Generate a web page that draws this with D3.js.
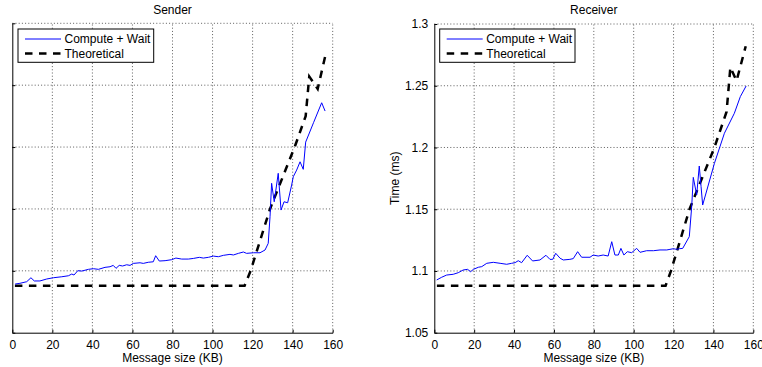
<!DOCTYPE html>
<html>
<head>
<meta charset="utf-8">
<script src="https://cdn.jsdelivr.net/npm/d3@7"></script>
<style>
  html, body { margin: 0; padding: 0; background: #fff; }
  svg { display: block; font-family: "Liberation Sans", Arial, sans-serif; }
</style>
</head>
<body>
<svg id="chart" width="762" height="367"></svg>
<script>
// ---------- data ----------
const xTicks = [0, 20, 40, 60, 80, 100, 120, 140, 160];
const yTicks = [1.05, 1.1, 1.15, 1.2, 1.25, 1.3];
const seriesNames = ["Compute + Wait", "Theoretical"];
const panelTitles = ["Sender", "Receiver"];

const senderX = [1.4, 3.8, 7.2, 9.3, 11, 13.8, 17.2, 20.5, 24.7, 28, 29.7, 30.8, 32.7, 34.7, 38, 40.5, 43, 46.3, 48.8, 50.4, 51.8, 53.4, 55.1, 57.1, 58.8, 60.4, 63.8, 65.4, 67.9, 70.4, 71.6, 73.4, 76.3, 79.6, 81.7, 84.6, 87.9, 90.4, 93.4, 95.4, 97.9, 100.4, 102.9, 105.4, 108.7, 110.4, 112.9, 115.4, 117, 120.4, 123.7, 126.2, 127.8, 128.7, 129.5, 130.8, 132.8, 134.2, 135.7, 137.5, 139.5, 140.3, 142, 143.7, 145.3, 146.5, 150.5, 154.5, 156.2];
const senderY = [1.0893, 1.0899, 1.0912, 1.0944, 1.0918, 1.0918, 1.0934, 1.0944, 1.0952, 1.096, 1.0974, 1.0966, 1.1001, 1.0998, 1.1012, 1.1017, 1.1012, 1.1028, 1.1033, 1.1044, 1.102, 1.1044, 1.1039, 1.1049, 1.1044, 1.106, 1.1065, 1.106, 1.1069, 1.1073, 1.1122, 1.1079, 1.1082, 1.109, 1.1103, 1.1095, 1.1095, 1.11, 1.1109, 1.1103, 1.1109, 1.1119, 1.1114, 1.1125, 1.1133, 1.1128, 1.1141, 1.1152, 1.1141, 1.1146, 1.1146, 1.1168, 1.1222, 1.1437, 1.1707, 1.1558, 1.1788, 1.1491, 1.1558, 1.155, 1.1693, 1.176, 1.1814, 1.1881, 1.182, 1.204, 1.220, 1.2358, 1.2291];

const receiverX = [1.2, 3.7, 6.2, 9.5, 12, 14.5, 16.7, 18.2, 19.6, 22.1, 23.8, 26.3, 29.6, 33, 36.3, 38.8, 40.5, 42.1, 43.8, 46.6, 49.3, 53, 56, 58, 59.4, 60.9, 63.1, 64.7, 68, 69.7, 71.9, 73.9, 78.1, 79.7, 82.2, 84.7, 87.2, 89, 90.6, 92.3, 93.6, 95.1, 96.8, 99, 101.5, 103.2, 106.5, 109.9, 113.2, 116.6, 118.2, 119.9, 121.6, 122.9, 124.6, 127.9, 129.1, 129.9, 131.6, 132.9, 133.8, 134.6, 140.5, 145.5, 150.5, 153.5, 156.4];
const receiverY = [1.0927, 1.0949, 1.0967, 1.0973, 1.0986, 1.1008, 1.1013, 1.0994, 1.1013, 1.103, 1.1035, 1.1062, 1.107, 1.1062, 1.1054, 1.1062, 1.1067, 1.1083, 1.1067, 1.1127, 1.1081, 1.1089, 1.1127, 1.1094, 1.1094, 1.1143, 1.1103, 1.1089, 1.1094, 1.11, 1.1156, 1.1111, 1.1111, 1.1129, 1.1121, 1.1129, 1.1121, 1.1237, 1.1129, 1.1129, 1.1183, 1.1129, 1.1156, 1.1148, 1.1183, 1.1151, 1.1164, 1.1164, 1.117, 1.117, 1.1175, 1.118, 1.1175, 1.118, 1.1183, 1.1278, 1.1521, 1.1758, 1.1615, 1.185, 1.1683, 1.1534, 1.1872, 1.2115, 1.2277, 1.2412, 1.2498];

const theoSenderX = [1.3, 116, 119, 128.7, 141, 146.5, 148.3, 152.5, 156.2];
const theoSenderY = [1.088, 1.088, 1.1, 1.15, 1.2, 1.225, 1.257, 1.247, 1.273];
const theoReceiverX = [1.3, 116, 118.7, 128, 140.5, 146.6, 148.5, 151.6, 156.2];
const theoReceiverY = [1.088, 1.088, 1.1, 1.15, 1.2, 1.229, 1.265, 1.254, 1.282];

// ---------- layout ----------
const svg = d3.select("#chart");
const panels = [
  { title: panelTitles[0], x0: 12.3, x1: 332.7, y0: 332.7, y1: 23.3, showY: false,
    bx: senderX, by: senderY, tx: theoSenderX, ty: theoSenderY,
    legend: { x: 18, y: 29, w: 135.7, h: 33.3 } },
  { title: panelTitles[1], x0: 434.3, x1: 753.3, y0: 332.7, y1: 24, showY: true,
    bx: receiverX, by: receiverY, tx: theoReceiverX, ty: theoReceiverY,
    legend: { x: 439.7, y: 29, w: 135.3, h: 33.3 } }
];

panels.forEach(p => {
  const x = d3.scaleLinear().domain([0, 160]).range([p.x0, p.x1]);
  const y = d3.scaleLinear().domain([1.05, 1.3]).range([p.y0, p.y1]);
  const g = svg.append("g");

  // grid
  g.append("g").selectAll("line").data(xTicks.slice(1)).join("line")
    .attr("x1", d => x(d)).attr("x2", d => x(d))
    .attr("y1", p.y0).attr("y2", p.y1)
    .attr("stroke", "#333").attr("stroke-width", 0.8)
    .attr("stroke-dasharray", "1,2.2");
  g.append("g").selectAll("line").data(yTicks.slice(1)).join("line")
    .attr("x1", p.x0).attr("x2", p.x1)
    .attr("y1", d => y(d)).attr("y2", d => y(d))
    .attr("stroke", "#333").attr("stroke-width", 0.8)
    .attr("stroke-dasharray", "1,2.2");

  // axes
  const xAxis = d3.axisBottom(x).tickValues(xTicks).tickSizeInner(-3).tickSizeOuter(0).tickPadding(8);
  const gx = g.append("g").attr("transform", `translate(0,${p.y0})`).call(xAxis);
  gx.select(".domain").attr("stroke", "#000");
  gx.selectAll("text").attr("font-size", 12).attr("fill", "#000")
    .attr("font-family", "'Liberation Sans', Arial, sans-serif");

  const yAxis = d3.axisLeft(y).tickValues(yTicks).tickSizeInner(-3).tickSizeOuter(0).tickPadding(6)
    .tickFormat(p.showY ? d3.format("") : () => "");
  const gy = g.append("g").attr("transform", `translate(${p.x0},0)`).call(yAxis);
  gy.select(".domain").attr("stroke", "#000");
  gy.selectAll("text").attr("font-size", 12).attr("fill", "#000")
    .attr("font-family", "'Liberation Sans', Arial, sans-serif");

  // title & labels
  g.append("text").attr("x", (p.x0 + p.x1) / 2).attr("y", 14)
    .attr("text-anchor", "middle").attr("font-size", 12).text(p.title);
  g.append("text").attr("x", (p.x0 + p.x1) / 2).attr("y", 362)
    .attr("text-anchor", "middle").attr("font-size", 12).text("Message size (KB)");
  if (p.showY) {
    g.append("text").attr("transform", `translate(${p.x0 - 35},${(p.y0 + p.y1) / 2}) rotate(-90)`)
      .attr("text-anchor", "middle").attr("font-size", 12).text("Time (ms)");
  }

  // lines
  const line = d3.line().x(d => x(d[0])).y(d => y(d[1]));
  g.append("path").datum(d3.zip(p.tx, p.ty)).attr("d", line)
    .attr("fill", "none").attr("stroke", "#000").attr("stroke-width", 2.5)
    .attr("stroke-dasharray", "7.5,6.5");
  g.append("path").datum(d3.zip(p.bx, p.by)).attr("d", line)
    .attr("fill", "none").attr("stroke", "#0000ff").attr("stroke-width", 1);

  // legend
  const L = p.legend;
  const lg = g.append("g");
  lg.append("rect").attr("x", L.x).attr("y", L.y).attr("width", L.w).attr("height", L.h)
    .attr("fill", "#fff").attr("stroke", "#000").attr("stroke-width", 1);
  const rows = [
    { name: seriesNames[0], color: "#0000ff", w: 1, dash: null, cy: L.y + 10 },
    { name: seriesNames[1], color: "#000", w: 2.5, dash: "7.5,6.5", cy: L.y + 24.5 }
  ];
  rows.forEach(r => {
    lg.append("line").attr("x1", L.x + 7).attr("x2", L.x + 43).attr("y1", r.cy).attr("y2", r.cy)
      .attr("stroke", r.color).attr("stroke-width", r.w).attr("stroke-dasharray", r.dash);
    lg.append("text").attr("x", L.x + 46.5).attr("y", r.cy + 4.3)
      .attr("font-size", 12).text(r.name);
  });
});
</script>
</body>
</html>
